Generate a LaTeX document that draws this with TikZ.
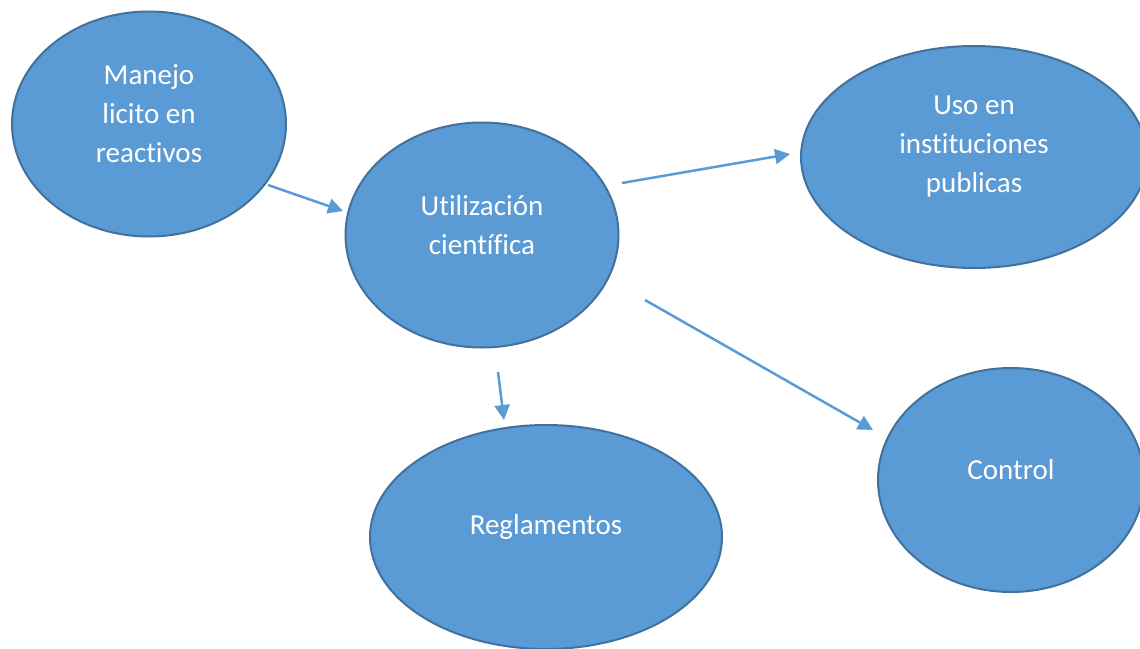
\documentclass[tikz,border=0pt]{standalone}
\usepackage{fontspec}
\setmainfont[Ligatures=NoCommon]{Carlito}
\usetikzlibrary{arrows.meta,shapes.geometric}
\definecolor{fillb}{HTML}{5B9BD5}
\definecolor{edgeb}{HTML}{41719C}
\tikzset{
  bub/.style={ellipse,fill=fillb,draw=edgeb,line width=2pt,inner sep=0pt},
  txt/.style={text=white,align=center,font=\fontsize{29}{39}\selectfont,yshift=10pt},
  conn/.style={draw=fillb,line width=2.5pt,-{Triangle[length=15pt,width=15pt]}}
}
\begin{document}
\begin{tikzpicture}[x=1pt,y=-1pt]
\useasboundingbox (0,0) rectangle (1140,648);
\begin{scope}
\clip (0,0) rectangle (1140,648);
\node[bub,minimum width=274pt,minimum height=225pt,label={[txt,name=at]center:Manejo\\licito en\\reactivos}] (a) at (149,124) {};
\node[bub,minimum width=273pt,minimum height=225pt,label={[txt,name=bt]center:Utilización\\científica}] (b) at (482,235) {};
\node[bub,minimum width=346pt,minimum height=222pt,label={[txt,name=ct]center:Uso en\\instituciones\\publicas}] (c) at (974,157) {};
\node[bub,minimum width=266pt,minimum height=224pt,label={[txt,name=dt]center:Control}] (d) at (1011,480) {};
\node[bub,minimum width=352pt,minimum height=224pt,label={[txt,name=et]center:Reglamentos}] (e) at (546,537) {};
\end{scope}
\coordinate (a1) at (268,185);
\coordinate (b1) at (343,211);
\coordinate (b2) at (622,183);
\coordinate (c1) at (790,154);
\coordinate (b3) at (498,372);
\coordinate (e1) at (504,420);
\coordinate (b4) at (645,300);
\coordinate (d1) at (873,430);
\draw[conn] (a1) -- (b1);
\draw[conn] (b2) -- (c1);
\draw[conn] (b3) -- (e1);
\draw[conn] (b4) -- (d1);
\end{tikzpicture}
\end{document}
